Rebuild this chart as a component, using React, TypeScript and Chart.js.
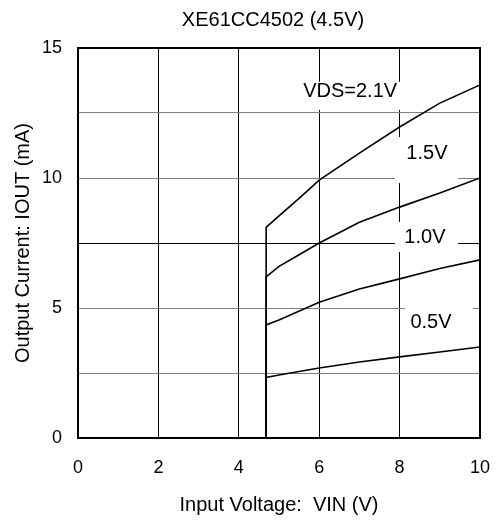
import React, { useEffect, useRef } from "react";
import { Chart, registerables } from "chart.js";

Chart.register(...registerables);

// ---- data ----
const chartTitle = "XE61CC4502 (4.5V)";
const xAxisTitle = "Input Voltage:  VIN (V)";
const yAxisTitle = "Output Current: IOUT (mA)";

const seriesNames = ["VDS=2.1V", "1.5V", "1.0V", "0.5V"];

const vin21 = [0, 4.68, 4.68, 5, 5.5, 6, 7, 8, 9, 10];
const iout21 = [0, 0, 8.1, 8.54, 9.22, 9.92, 10.96, 11.96, 12.88, 13.58];

const vin15 = [0, 4.68, 4.68, 5, 5.5, 6, 7, 8, 9, 10];
const iout15 = [0, 0, 6.2, 6.6, 7.05, 7.5, 8.3, 8.88, 9.42, 10.0];

const vin10 = [0, 4.68, 4.68, 5, 6, 7, 8, 9, 10];
const iout10 = [0, 0, 4.35, 4.54, 5.22, 5.73, 6.12, 6.52, 6.85];

const vin05 = [0, 4.68, 4.68, 5, 6, 7, 8, 9, 10];
const iout05 = [0, 0, 2.33, 2.42, 2.69, 2.92, 3.12, 3.31, 3.5];

// curve labels (data coordinates)
const labelTexts = ["VDS=2.1V", "1.5V", "1.0V", "0.5V"];
const labelX = [6.77, 8.68, 8.63, 8.78];
const labelY = [13.31, 10.96, 7.73, 4.46];

const xTicksMin = 0;
const xTicksMax = 10;
const xTickStep = 2;
const yTicksMin = 0;
const yTicksMax = 15;
const yTickStep = 2.5;
const yLabelStep = 5;

// ---- styles ----
const FONT = "'Liberation Sans', Arial, sans-serif";
// white boxes behind labels, px offsets from label center: [left, top, right, bottom]
const labelBoxes = [
  [-52, -10, 54, 18],
  [-32, -16, 31, 30],
  [-30, -15, 33, 15],
  [-26, -22, 42, 13],
];

const toPts = (xs: number[], ys: number[]) => xs.map((x, i) => ({ x, y: ys[i] }));

const labelPlugin = {
  id: "curveLabels",
  beforeDatasetsDraw(chart: any) {
    const { ctx, scales } = chart;
    ctx.save();
    labelTexts.forEach((t, i) => {
      const cx = scales.x.getPixelForValue(labelX[i]);
      const cy = scales.y.getPixelForValue(labelY[i]);
      const b = labelBoxes[i];
      ctx.fillStyle = "#ffffff";
      ctx.fillRect(cx + b[0], cy + b[1], b[2] - b[0], b[3] - b[1]);
    });
    ctx.restore();
  },
  afterDatasetsDraw(chart: any) {
    const { ctx, scales, chartArea } = chart;
    ctx.save();
    ctx.font = `20px ${FONT}`;
    ctx.fillStyle = "#000";
    ctx.textAlign = "center";
    ctx.textBaseline = "middle";
    labelTexts.forEach((t, i) => {
      const cx = scales.x.getPixelForValue(labelX[i]);
      const cy = scales.y.getPixelForValue(labelY[i]);
      ctx.fillText(t, cx, cy);
    });
    // frame
    ctx.strokeStyle = "#000";
    ctx.lineWidth = 2;
    ctx.strokeRect(
      chartArea.left,
      chartArea.top,
      chartArea.right - chartArea.left,
      chartArea.bottom - chartArea.top
    );
    // title
    ctx.font = `20px ${FONT}`;
    ctx.fillText(chartTitle, 273, 20);
    ctx.restore();
  },
};

export default function App() {
  const ref = useRef<HTMLCanvasElement>(null);

  useEffect(() => {
    if (!ref.current) return;
    const mk = (label: string, xs: number[], ys: number[]) => ({
      label,
      data: toPts(xs, ys),
      borderColor: "#000",
      borderWidth: 1.6,
      pointRadius: 0,
      tension: 0,
      fill: false,
    });
    const chart = new Chart(ref.current, {
      type: "line",
      data: {
        datasets: [
          mk(seriesNames[0], vin21, iout21),
          mk(seriesNames[1], vin15, iout15),
          mk(seriesNames[2], vin10, iout10),
          mk(seriesNames[3], vin05, iout05),
        ],
      },
      options: {
        animation: false,
        responsive: false,
        layout: { padding: { left: 0, right: 19, top: 48, bottom: 0 } },
        plugins: {
          legend: { display: false },
          tooltip: { enabled: false },
          title: { display: false },
        },
        scales: {
          x: {
            type: "linear",
            min: xTicksMin,
            max: xTicksMax,
            ticks: {
              stepSize: xTickStep,
              color: "#000",
              font: { family: FONT, size: 18 },
              padding: 19,
              maxRotation: 0,
            },
            grid: { color: "#000", lineWidth: 1, drawTicks: false },
            border: { display: false },
            title: {
              display: true,
              text: xAxisTitle,
              color: "#000",
              font: { family: FONT, size: 20 },
              padding: { top: 0, bottom: 3 },
            },
            afterFit: (s: any) => {
              s.height = 82;
              s.paddingLeft = 0;
              s.paddingRight = 0;
            },
          },
          y: {
            type: "linear",
            min: yTicksMin,
            max: yTicksMax,
            ticks: {
              stepSize: yTickStep,
              color: "#000",
              font: { family: FONT, size: 18 },
              padding: 16,
              callback: (v: any) => (Number(v) % yLabelStep === 0 ? String(v) : ""),
            },
            grid: {
              color: (c: any) =>
                c.tick && c.tick.value === 7.5 ? "#000" : "#808080",
              lineWidth: 1,
              drawTicks: false,
            },
            border: { display: false },
            title: {
              display: true,
              text: yAxisTitle,
              color: "#000",
              font: { family: FONT, size: 20 },
              padding: { top: 11, bottom: 0 },
            },
            afterFit: (s: any) => {
              s.width = 78;
              s.paddingTop = 0;
              s.paddingBottom = 0;
            },
          },
        },
      },
      plugins: [labelPlugin],
    } as any);
    return () => chart.destroy();
  }, []);

  return (
    <div style={{ position: "absolute", left: 0, top: 0, width: 499, height: 520, background: "#fff" }}>
      <canvas ref={ref} width={499} height={520} />
    </div>
  );
}
